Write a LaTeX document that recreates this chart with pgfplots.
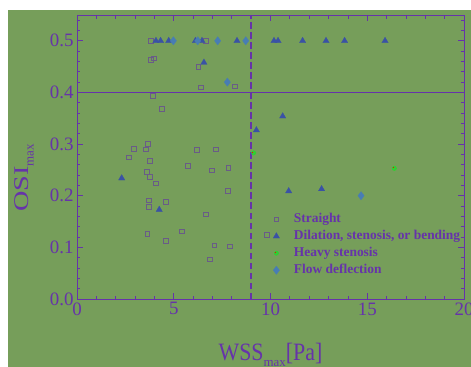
\documentclass[border=0pt]{standalone}
\usepackage{fontspec}
\setmainfont{Liberation Serif}
\usepackage{pgfplots}
\pgfplotsset{compat=1.18}
\definecolor{bg}{RGB}{118,158,90}
\definecolor{pur}{RGB}{102,51,170}
\definecolor{sq}{RGB}{105,92,135}
\definecolor{tri}{RGB}{58,82,165}
\definecolor{dia}{RGB}{72,125,180}
\definecolor{hv}{RGB}{50,205,50}
\pgfdeclareplotmark{hvdot}{%
 \pgfpathcircle{\pgfpointorigin}{\pgfplotmarksize}\pgfsetfillcolor{hv}\pgfusepath{fill}%
 \pgfpathrectangle{\pgfpoint{-1.3pt}{0.2pt}}{\pgfpoint{1pt}{1pt}}\pgfsetfillcolor{red}\pgfusepath{fill}}
\pgfplotsset{lgimg/.style={legend image code/.code={\path[draw=none,fill=none] (0cm,-0.1cm) (0.9cm,0.1cm); \draw[mark repeat=2,mark phase=2] plot coordinates {(0cm,0cm)(0.3cm,0cm)(0.6cm,0cm)};}}}
\begin{document}
\begin{tikzpicture}
\useasboundingbox (-77bp,-68bp) rectangle (394bp,299bp);
\fill[white] (-77bp,-68bp) rectangle (394bp,299bp);
\fill[bg] (-69bp,-68bp) rectangle (394bp,289bp);
\begin{axis}[at={(0,0)},anchor=south west, scale only axis, width=387bp, height=284bp,
 xmin=0,xmax=20,ymin=0,ymax=0.55,
 axis line style={pur, line width=0.9bp},
 every tick/.style={pur, line width=0.8bp},
 tick align=inside,
 xtick={0,5,10,15,20},
 minor xtick={1,2,3,4,6,7,8,9,11,12,13,14,16,17,18,19},
 ytick={0,0.1,0.2,0.3,0.4,0.5},
 minor ytick={0.02,0.04,0.06,0.08,0.12,0.14,0.16,0.18,0.22,0.24,0.26,0.28,0.32,0.34,0.36,0.38,0.42,0.44,0.46,0.48,0.52,0.54},
 major tick length=6bp, minor tick length=3.5bp,
 /pgf/number format/assume math mode=true,
 ticklabel style={font=\fontsize{19}{19}\selectfont, text=pur},
 yticklabel style={/pgf/number format/fixed, /pgf/number format/fixed zerofill, /pgf/number format/precision=1},
 xticklabel style={/pgf/number format/fixed},
 xlabel={\scalebox{1}[1.14]{WSS}{\fontsize{13}{13}\selectfont\raisebox{-6.5bp}{max}}\scalebox{1}[1.14]{[Pa]}},
 xlabel style={font=\fontsize{22}{22}\selectfont, text=pur, at={(axis description cs:0.5,-0.215)}, anchor=base},
 ylabel={\scalebox{1.35}[1]{OSI}{\fontsize{13}{13}\selectfont\raisebox{-5bp}{max}}},
 ylabel style={font=\fontsize{21}{21}\selectfont, text=pur, at={(axis description cs:-0.136,0.426)}, anchor=center},
 legend style={draw=none, fill=none, at={(axis description cs:0.485,0.315)}, anchor=north west,
   font=\fontsize{13.5}{13.5}\selectfont\bfseries, text=pur, row sep=2bp,
   nodes={inner sep=0.5bp, text height=10bp, text depth=4bp}},
 legend cell align=left,
 clip=false,
]
\addplot[draw=pur, line width=1.5bp, dash pattern=on 6.5bp off 3.5bp, forget plot] coordinates {(9,0) (9,0.55)};
\addplot[draw=pur, line width=1bp, forget plot] coordinates {(0,0.4) (20,0.4)};
\addplot[only marks, lgimg, mark=square, mark size=2.3pt, mark options={draw=sq, line width=0.8bp}] coordinates {
(3.81,0.5) (6.67,0.5) (3.82,0.463) (3.96,0.466) (6.27,0.450) (6.41,0.410) (8.15,0.412)
(3.93,0.393) (4.38,0.368) (2.95,0.291) (3.67,0.300) (3.57,0.290) (2.69,0.274) (3.77,0.267)
(6.20,0.289) (7.17,0.290) (5.72,0.258) (6.96,0.249) (7.82,0.254) (3.62,0.246) (3.77,0.236)
(4.08,0.224) (7.80,0.209) (3.72,0.191) (4.58,0.188) (3.72,0.178) (6.67,0.164) (5.43,0.131)
(3.64,0.126) (4.58,0.113) (7.10,0.104) (7.91,0.102) (6.86,0.077) (9.80,0.124)};
\addlegendentry{Straight}
\addplot[only marks, lgimg, mark=triangle*, mark size=3.7pt, mark options={draw=tri, fill=tri, line width=0.2bp}] coordinates {
(4.08,0.5) (4.32,0.5) (4.74,0.5) (6.12,0.5) (6.46,0.5) (8.27,0.5) (10.18,0.5) (10.39,0.5)
(11.66,0.5) (12.87,0.5) (13.83,0.5) (15.92,0.5) (6.56,0.458) (9.27,0.327) (10.63,0.354)
(2.31,0.234) (4.25,0.173) (10.94,0.209) (12.64,0.213)};
\addlegendentry{Dilation, stenosis, or bending}
\addplot[only marks, lgimg, mark=hvdot, mark size=2.5pt] coordinates {(9.13,0.283) (16.40,0.253)};
\addlegendentry{Heavy stenosis}
\addplot[only marks, lgimg, mark=diamond*, mark size=4.2pt, mark options={draw=dia, fill=dia, line width=0.2bp}] coordinates {
(4.98,0.5) (6.24,0.5) (7.27,0.5) (8.72,0.5) (7.77,0.420) (14.68,0.200)};
\addlegendentry{Flow deflection}
\end{axis}
\end{tikzpicture}
\end{document}
